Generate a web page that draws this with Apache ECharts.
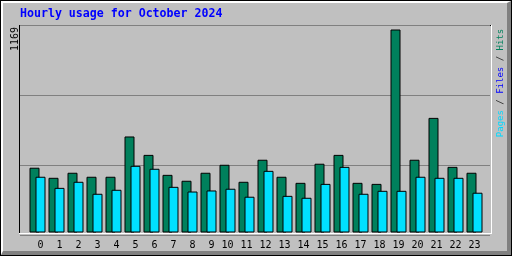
<!DOCTYPE html>
<html>
<head>
<meta charset="utf-8">
<script src="https://cdn.jsdelivr.net/npm/echarts@6/dist/echarts.min.js"></script>
<style>
html,body{margin:0;padding:0;background:#c0c0c0;}
#c{width:512px;height:256px;}
</style>
</head>
<body>
<div id="c"></div>
<script>
var hours = ['0','1','2','3','4','5','6','7','8','9','10','11','12','13','14','15','16','17','18','19','20','21','22','23'];
var hits = [373,315,344,321,321,553,447,332,298,344,390,292,419,321,286,396,447,286,280,1169,419,660,378,344];
var pages = [321,257,292,223,246,384,367,263,236,242,252,206,355,211,200,280,378,223,240,240,321,315,315,229];
var yTickLabels = ['1169'];
var titleText = 'Hourly usage for October 2024';
var legendParts = ['Pages', 'Files', 'Hits'];

var chart = echarts.init(document.getElementById('c'), null, {renderer: 'canvas'});
var mono = "'DejaVu Sans Mono', monospace";
var yMax = Number(yTickLabels[0]);

var option = {
  animation: false,
  backgroundColor: '#c0c0c0',
  title: {
    text: titleText,
    left: 20,
    top: 8,
    padding: 0,
    textStyle: {fontFamily: mono, fontWeight: 'bold', fontSize: 11.6, color: '#0000ff'}
  },
  graphic: [
    {type: 'rect', z: -10, shape: {x: 0, y: 0, width: 512, height: 256}, style: {fill: '#000000'}},
    {type: 'rect', z: -9, shape: {x: 1, y: 1, width: 510, height: 254}, style: {fill: '#ffffff'}},
    {type: 'polygon', z: -8, shape: {points: [[511,1],[511,255],[1,255],[3,251],[507,251],[507,3]]}, style: {fill: '#808080'}},
    {type: 'rect', z: -7, shape: {x: 3, y: 3, width: 504, height: 248}, style: {fill: '#c0c0c0'}},
    {type: 'rect', z: -6, shape: {x: 19, y: 25, width: 473, height: 209}, style: {fill: '#ffffff'}},
    {type: 'rect', z: -5, shape: {x: 19, y: 25, width: 472, height: 208}, style: {fill: '#000000'}},
    {type: 'rect', z: -4, shape: {x: 20, y: 26, width: 471, height: 207}, style: {fill: '#c0c0c0'}},
    {type: 'text', z: 5, x: 15, y: 39, rotation: Math.PI / 2,
      style: {text: yTickLabels[0], font: '10px ' + mono, fill: '#000000', align: 'center', verticalAlign: 'middle'}},
    {type: 'text', z: 5, x: 500.5, y: 83, rotation: Math.PI / 2,
      style: {
        text: '{p|' + legendParts[0] + '}{s| / }{f|' + legendParts[1] + '}{s| / }{h|' + legendParts[2] + '}',
        font: '9px ' + mono, align: 'center', verticalAlign: 'middle',
        rich: {
          p: {fill: '#00d8ff', font: '9px ' + mono},
          s: {fill: '#202020', font: '9px ' + mono},
          f: {fill: '#0000ff', font: '9px ' + mono},
          h: {fill: '#00805c', font: '9px ' + mono}
        }
      }}
  ],
  grid: [
    {left: 28, top: 29.5, width: 456, height: 203, containLabel: false},
    {left: 20, top: 25, width: 470, height: 210, containLabel: false}
  ],
  xAxis: [
    {type: 'category', gridIndex: 0, data: hours, boundaryGap: true,
      axisLine: {show: false}, axisTick: {show: false},
      axisLabel: {fontFamily: mono, fontSize: 10, color: '#000000', margin: 8, interval: 0,
        formatter: function (v) { return v.length < 2 ? ' ' + v : v; }},
      splitLine: {show: false}},
    {type: 'value', gridIndex: 1, show: false}
  ],
  yAxis: [
    {type: 'value', gridIndex: 0, min: 0, max: yMax, show: false, splitLine: {show: false}},
    {type: 'value', gridIndex: 1, min: 0, max: 3, interval: 1, show: true,
      axisLine: {show: false}, axisTick: {show: false}, axisLabel: {show: false},
      splitLine: {show: true, lineStyle: {color: '#808080', width: 1}}}
  ],
  series: [
    {type: 'bar', name: 'Hits', xAxisIndex: 0, yAxisIndex: 0, data: hits, barWidth: 10, barGap: '-40%',
      itemStyle: {color: '#00805c', borderColor: '#000000', borderWidth: 1}},
    {type: 'bar', name: 'Pages', xAxisIndex: 0, yAxisIndex: 0, data: pages, barWidth: 10, barGap: '-40%',
      itemStyle: {color: '#00e0ff', borderColor: '#000000', borderWidth: 1}}
  ]
};
chart.setOption(option);
</script>
</body>
</html>
